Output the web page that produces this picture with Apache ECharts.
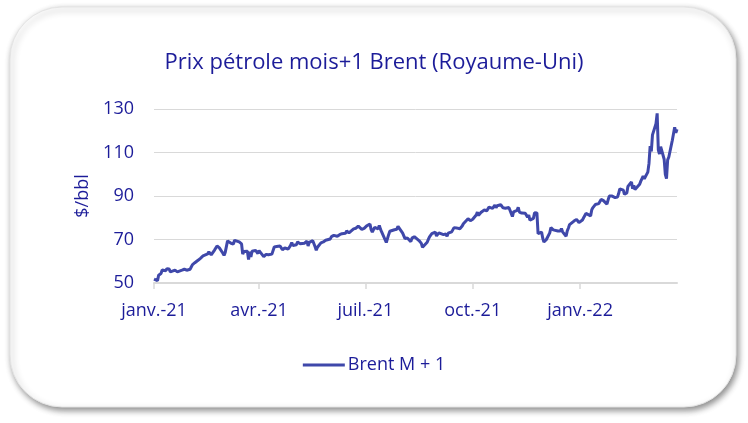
<!DOCTYPE html>
<html><head><meta charset="utf-8">
<script src="https://cdn.jsdelivr.net/npm/echarts@6/dist/echarts.min.js"></script>
<style>html,body{margin:0;padding:0;background:#fff}#c{width:748px;height:423px}</style>
</head><body><div id="c"></div>
<script>
const chartTitle = 'Prix pétrole mois+1 Brent (Royaume-Uni)';
const seriesName = 'Brent M + 1';
const yAxisName = '$/bbl';
const yTicks = [50, 70, 90, 110, 130];
const xTickDates = ['2021-01-01','2021-04-01','2021-07-01','2021-10-01','2022-01-01'];
const monthNames = ['janv.','févr.','mars','avr.','mai','juin','juil.','août','sept.','oct.','nov.','déc.'];

const dates = [
'2021-01-01','2021-01-04','2021-01-05','2021-01-06','2021-01-07','2021-01-08','2021-01-11','2021-01-12','2021-01-13','2021-01-14','2021-01-15',
'2021-01-19','2021-01-20','2021-01-21','2021-01-22','2021-01-25','2021-01-26','2021-01-27','2021-01-28','2021-01-29',
'2021-02-01','2021-02-02','2021-02-03','2021-02-04','2021-02-05','2021-02-08','2021-02-09','2021-02-10','2021-02-11','2021-02-12',
'2021-02-16','2021-02-17','2021-02-18','2021-02-19','2021-02-22','2021-02-23','2021-02-24','2021-02-25','2021-02-26',
'2021-03-01','2021-03-02','2021-03-03','2021-03-04','2021-03-05','2021-03-08','2021-03-09','2021-03-10','2021-03-11','2021-03-12',
'2021-03-15','2021-03-16','2021-03-17','2021-03-18','2021-03-19','2021-03-22','2021-03-23','2021-03-24','2021-03-25','2021-03-26',
'2021-03-29','2021-03-30','2021-03-31','2021-04-01','2021-04-05','2021-04-06','2021-04-07','2021-04-08','2021-04-09',
'2021-04-12','2021-04-13','2021-04-14','2021-04-15','2021-04-16','2021-04-19','2021-04-20','2021-04-21','2021-04-22','2021-04-23',
'2021-04-26','2021-04-27','2021-04-28','2021-04-29','2021-04-30','2021-05-03','2021-05-04','2021-05-05','2021-05-06','2021-05-07',
'2021-05-10','2021-05-11','2021-05-12','2021-05-13','2021-05-14','2021-05-17','2021-05-18','2021-05-19','2021-05-20','2021-05-21',
'2021-05-24','2021-05-25','2021-05-26','2021-05-27','2021-05-28','2021-06-01','2021-06-02','2021-06-03','2021-06-04',
'2021-06-07','2021-06-08','2021-06-09','2021-06-10','2021-06-11','2021-06-14','2021-06-15','2021-06-16','2021-06-17','2021-06-18',
'2021-06-21','2021-06-22','2021-06-23','2021-06-24','2021-06-25','2021-06-28','2021-06-29','2021-06-30','2021-07-01','2021-07-02',
'2021-07-05','2021-07-06','2021-07-07','2021-07-08','2021-07-09','2021-07-12','2021-07-13','2021-07-14','2021-07-15','2021-07-16',
'2021-07-19','2021-07-20','2021-07-21','2021-07-22','2021-07-23','2021-07-26','2021-07-27','2021-07-28','2021-07-29','2021-07-30',
'2021-08-02','2021-08-03','2021-08-04','2021-08-05','2021-08-06','2021-08-09','2021-08-10','2021-08-11','2021-08-12','2021-08-13',
'2021-08-16','2021-08-17','2021-08-18','2021-08-19','2021-08-20','2021-08-23','2021-08-24','2021-08-25','2021-08-26','2021-08-27',
'2021-08-30','2021-08-31','2021-09-01','2021-09-02','2021-09-03','2021-09-06','2021-09-07','2021-09-08','2021-09-09','2021-09-10',
'2021-09-13','2021-09-14','2021-09-15','2021-09-16','2021-09-17','2021-09-20','2021-09-21','2021-09-22','2021-09-23','2021-09-24',
'2021-09-27','2021-09-28','2021-09-29','2021-09-30','2021-10-01','2021-10-04','2021-10-05','2021-10-06','2021-10-07','2021-10-08',
'2021-10-11','2021-10-12','2021-10-13','2021-10-14','2021-10-15','2021-10-18','2021-10-19','2021-10-20','2021-10-21','2021-10-22',
'2021-10-25','2021-10-26','2021-10-27','2021-10-28','2021-10-29','2021-11-01','2021-11-02','2021-11-03','2021-11-04','2021-11-05',
'2021-11-08','2021-11-09','2021-11-10','2021-11-11','2021-11-12','2021-11-15','2021-11-16','2021-11-17','2021-11-18','2021-11-19',
'2021-11-22','2021-11-23','2021-11-24','2021-11-25','2021-11-26','2021-11-29','2021-11-30','2021-12-01','2021-12-02','2021-12-03',
'2021-12-06','2021-12-07','2021-12-08','2021-12-09','2021-12-10','2021-12-13','2021-12-14','2021-12-15','2021-12-16','2021-12-17',
'2021-12-20','2021-12-21','2021-12-22','2021-12-23','2021-12-24','2021-12-27','2021-12-28','2021-12-29','2021-12-30','2021-12-31',
'2022-01-03','2022-01-04','2022-01-05','2022-01-06','2022-01-07','2022-01-10','2022-01-11','2022-01-12','2022-01-13','2022-01-14',
'2022-01-17','2022-01-18','2022-01-19','2022-01-20','2022-01-21','2022-01-24','2022-01-25','2022-01-26','2022-01-27','2022-01-28',
'2022-01-31','2022-02-01','2022-02-02','2022-02-03','2022-02-04','2022-02-07','2022-02-08','2022-02-09','2022-02-10','2022-02-11',
'2022-02-14','2022-02-15','2022-02-16','2022-02-17','2022-02-18','2022-02-21','2022-02-22','2022-02-23','2022-02-24','2022-02-25',
'2022-02-28','2022-03-01','2022-03-02','2022-03-03','2022-03-04','2022-03-07','2022-03-08','2022-03-09','2022-03-10','2022-03-11',
'2022-03-14','2022-03-15','2022-03-16','2022-03-17','2022-03-18','2022-03-21','2022-03-22','2022-03-23','2022-03-24','2022-03-25'
];

const brent = [
51.8,51.09,53.6,54.3,54.38,55.99,55.66,56.58,56.06,56.42,55.1,
55.9,56.08,55.1,55.41,55.88,55.91,56.32,55.53,55.88,
56.35,57.46,58.46,58.84,59.34,60.56,61.09,61.47,61.14,62.43,
63.35,64.34,63.93,62.91,65.24,65.37,67.04,66.88,66.13,
63.69,62.7,64.07,66.74,69.36,68.24,67.52,67.9,69.63,69.22,
68.88,68.39,68.0,63.28,64.53,64.62,60.79,64.41,61.95,64.57,
64.98,64.14,63.54,64.86,62.15,62.74,63.16,63.2,62.95,
63.28,63.67,66.58,66.94,66.77,67.05,66.57,65.32,65.4,66.11,
65.65,66.42,67.27,68.56,67.25,67.56,68.88,68.96,68.09,68.28,
68.32,68.55,69.32,67.05,68.71,69.46,69.46,66.66,65.11,66.44,
68.46,68.65,68.87,69.46,69.63,70.25,71.35,71.31,71.89,
71.49,72.22,72.22,72.52,72.69,72.86,73.99,74.39,73.08,73.51,
74.9,74.81,75.19,75.56,76.18,74.68,74.76,75.13,75.84,76.17,
77.16,74.53,73.43,74.12,75.55,74.9,76.49,74.76,73.47,73.59,
68.62,69.35,72.23,73.79,74.1,74.5,74.48,74.74,76.05,76.33,
72.89,72.41,70.38,71.29,70.7,69.04,70.63,71.44,71.31,70.59,
69.51,69.03,68.23,66.45,65.9,68.75,70.05,71.25,71.07,72.7,
73.41,71.63,71.59,73.03,72.61,72.22,71.69,72.6,71.45,72.92,
73.51,73.6,75.46,75.67,75.34,74.92,74.36,76.19,77.25,78.09,
79.53,79.09,78.64,78.52,79.28,81.26,82.56,81.08,81.95,82.39,
83.65,83.42,83.18,84.0,84.86,84.33,85.08,85.82,84.61,85.53,
85.99,86.4,84.58,84.32,84.38,84.71,84.72,81.99,80.54,82.74,
83.43,84.78,82.64,82.87,82.17,82.05,82.43,80.28,81.24,78.89,
79.7,82.31,82.25,82.22,72.72,73.44,70.57,68.87,69.67,69.88,
73.08,75.44,75.82,74.42,75.15,73.9,73.7,73.88,75.02,73.52,
71.52,73.98,75.29,76.85,76.14,78.6,78.94,79.23,79.32,77.78,
78.98,80.0,80.8,81.99,81.75,80.87,83.72,84.67,84.47,86.06,
86.48,87.51,88.44,88.38,87.89,86.27,88.2,89.96,89.34,90.03,
89.26,89.16,89.47,91.11,93.27,92.69,90.78,91.55,91.41,94.44,
96.48,93.28,94.81,92.97,93.54,95.39,96.84,96.84,99.08,97.93,
100.99,104.97,112.93,110.46,118.11,123.21,127.98,111.14,109.33,112.67,
106.9,99.91,98.02,106.64,107.93,115.62,115.48,121.6,119.03,120.65
];

function ts(s){const p=s.split('-').map(Number);return new Date(p[0],p[1]-1,p[2]).getTime();}
const seriesData = dates.map((d,i)=>[ts(d), brent[i]]);
const tickValues = xTickDates.map(ts);

const textColor = '#1c1c99';
const font = '"Open Sans", sans-serif';

const chart = echarts.init(document.getElementById('c'), null, {renderer:'canvas'});
chart.setOption({
  animation: false,
  backgroundColor: '#ffffff',
  graphic: [{
    type: 'rect', z: -10, silent: true,
    shape: {x: 10, y: 7, width: 726, height: 400, r: 52},
    style: {fill: '#fff', stroke: '#e4e4e4', lineWidth: 1,
      shadowBlur: 6, shadowOffsetX: 2, shadowOffsetY: 3, shadowColor: 'rgba(0,0,0,0.45)'}
  }],
  title: {
    text: chartTitle, left: 'center', top: 47,
    textStyle: {color: textColor, fontFamily: font, fontSize: 22, fontWeight: 'normal'}
  },
  legend: {
    data: [{name: seriesName, icon: 'rect'}], bottom: 44, left: 'center',
    itemWidth: 42, itemHeight: 3, itemGap: 10,
    textStyle: {color: textColor, fontFamily: font, fontSize: 18, padding: [0, 0, 0, -2]}
  },
  grid: {left: 154, right: 71, top: 109, bottom: 140},
  xAxis: {
    type: 'value',
    min: ts(xTickDates[0]), max: ts(dates[dates.length-1]),
    axisLine: {show: true, lineStyle: {color: '#d9d9d9', width: 2}},
    axisTick: {show: true, customValues: tickValues, length: 6, lineStyle: {color: '#d9d9d9', width: 1.5}},
    axisLabel: {
      customValues: tickValues, margin: 19,
      color: textColor, fontFamily: font, fontSize: 18,
      formatter: function(v){const d=new Date(v);return monthNames[d.getMonth()]+'-'+String(d.getFullYear()).slice(2);}
    },
    splitLine: {show: false}
  },
  yAxis: {
    type: 'value', min: yTicks[0], max: yTicks[yTicks.length-1], interval: 20,
    name: yAxisName, nameLocation: 'middle', nameRotate: 90, nameGap: 60,
    nameTextStyle: {color: textColor, fontFamily: font, fontSize: 18},
    axisLine: {show: false}, axisTick: {show: false},
    axisLabel: {color: textColor, fontFamily: font, fontSize: 18, margin: 20},
    splitLine: {lineStyle: {color: '#d9d9d9', width: 1}}
  },
  series: [{
    name: seriesName, type: 'line', data: seriesData,
    showSymbol: false, symbol: 'none',
    lineStyle: {color: '#3f48aa', width: 3},
    itemStyle: {color: '#3f48aa'}
  }]
});
</script></body></html>
